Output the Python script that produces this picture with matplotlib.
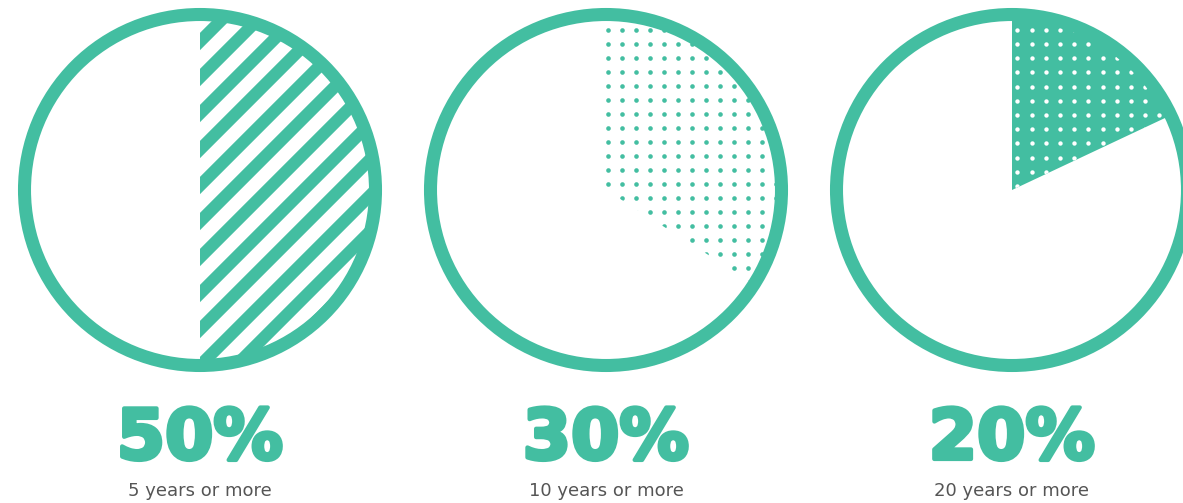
import matplotlib
matplotlib.use('Agg')

import matplotlib.pyplot as plt
import matplotlib.patches as mpatches
import matplotlib.patheffects as pe
import numpy as np

# ── Data ──────────────────────────────────────────────────────────────────────
pct_labels = ["50%", "30%", "20%"]
sub_labels = ["5 years or more", "10 years or more", "20 years or more"]
# share of each circle covered by the patterned wedge, as drawn in the graphic
wedge_share = [50, 34, 18]
fill_style = ["stripes", "dots", "solid_dots"]

GREEN = "#43bea1"
GREY = "#555555"

W, H = 1183, 503
CENTERS_X = [200, 606, 1012]   # pixel layout of the three circles
CENTER_Y = 190
HALF = 200                     # half size of each circle's axes (px)

fig = plt.figure(figsize=(W / 100, H / 100), dpi=100)
fig.patch.set_facecolor("white")

for cx, pct, sub, share, style in zip(CENTERS_X, pct_labels, sub_labels,
                                     wedge_share, fill_style):
    ax = fig.add_axes([(cx - HALF) / W, (H - CENTER_Y - HALF) / H,
                       2 * HALF / W, 2 * HALF / H])

    wedges, _ = ax.pie([share, 100 - share], radius=0.88, startangle=90,
                       counterclock=False, colors=["none", "none"],
                       wedgeprops=dict(linewidth=0))
    wedge = wedges[0]
    ax.set_xlim(-1, 1)
    ax.set_ylim(-1, 1)
    ax.set_aspect("equal")
    ax.axis("off")

    if style == "stripes":
        for k in range(-14, 14):
            c = 0.0225 + 0.18 * k
            ax.plot([-1.3, 1.3], [-1.3 + c, 1.3 + c], color=GREEN, lw=8.8,
                    solid_capstyle="butt", clip_path=wedge, zorder=2)
    elif style == "dots":
        gx, gy = np.meshgrid(0.01 + 0.07 * np.arange(-14, 15),
                             0.03 + 0.07 * np.arange(-14, 15))
        ax.scatter(gx.ravel(), gy.ravel(), s=11, color=GREEN, lw=0,
                   clip_path=wedge, zorder=2)
    else:
        wedge.set_facecolor(GREEN)
        gx, gy = np.meshgrid(0.027 + 0.071 * np.arange(-14, 15),
                             0.02 + 0.071 * np.arange(-14, 15))
        ax.scatter(gx.ravel(), gy.ravel(), s=10, color="white", lw=0,
                   clip_path=wedge, zorder=2)

    # outer ring
    ax.add_patch(mpatches.Circle((0, 0), 0.8775, fill=False, lw=9.4,
                                 ec=GREEN, zorder=5))

    # big percentage, thickened with a stroke to look heavier
    ax.text(0, (CENTER_Y - 459) / HALF, pct, ha="center", va="baseline",
            fontsize=50, fontweight="bold", family="DejaVu Sans",
            color=GREEN, clip_on=False,
            path_effects=[pe.withStroke(linewidth=3, foreground=GREEN)])
    ax.text(0, (CENTER_Y - 496) / HALF, sub, ha="center", va="baseline",
            fontsize=13, family="DejaVu Sans", color=GREY,
            clip_on=False)

fig.savefig("out.png", dpi=100, facecolor="white")
